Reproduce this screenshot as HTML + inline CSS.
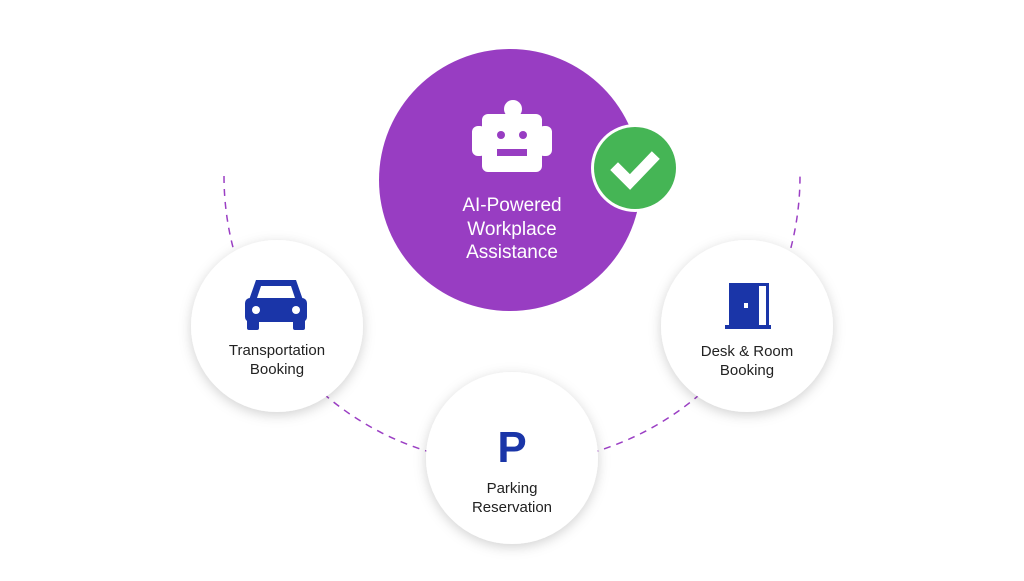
<!DOCTYPE html>
<html><head><style>
body{margin:0;width:1024px;height:576px;background:#fff;overflow:hidden;font-family:"Liberation Sans",sans-serif}
</style></head><body>
<svg width="1024" height="576" viewBox="0 0 1024 576" xmlns="http://www.w3.org/2000/svg">
<defs>
<filter id="sh" x="-30%" y="-30%" width="160%" height="160%"><feDropShadow dx="0" dy="3" stdDeviation="6" flood-color="#000" flood-opacity="0.18"/></filter>
</defs>
<path d="M224 176 A 288 288 0 0 0 800 176" fill="none" stroke="#9b3fc4" stroke-width="1.5" stroke-dasharray="7 6"/>
<circle cx="510" cy="180" r="131" fill="#983dc2"/>
<g fill="#fff">
<circle cx="513" cy="109" r="9"/>
<rect x="482" y="114" width="60" height="58" rx="6"/>
<rect x="472" y="126" width="14" height="30" rx="6"/>
<rect x="538" y="126" width="14" height="30" rx="6"/>
</g>
<circle cx="501" cy="135" r="4" fill="#983dc2"/>
<circle cx="523" cy="135" r="4" fill="#983dc2"/>
<rect x="497" y="149" width="30" height="7" fill="#983dc2"/>
<text fill="#fff" font-size="19" text-anchor="middle"><tspan x="512" y="211">AI-Powered</tspan><tspan x="512" y="235">Workplace</tspan><tspan x="512" y="258">Assistance</tspan></text>
<circle cx="635" cy="168" r="44" fill="#fff"/>
<circle cx="635" cy="168" r="41" fill="#45b555"/>
<path d="M618 170 L630 182 L652 159" fill="none" stroke="#fff" stroke-width="11" stroke-linecap="square"/>
<g filter="url(#sh)" fill="#fff">
<circle cx="277" cy="326" r="86"/>
<circle cx="512" cy="458" r="86"/>
<circle cx="747" cy="326" r="86"/>
</g>
<g fill="#1a35a8">
<path d="M256 280 H296 L303 300 H249 Z" />
<rect x="245" y="298" width="62" height="24" rx="5"/>
<rect x="247" y="318" width="12" height="12" rx="2"/>
<rect x="293" y="318" width="12" height="12" rx="2"/>
</g>
<path d="M261 286 H291 L295 298 H257 Z" fill="#fff"/>
<circle cx="256" cy="310" r="4" fill="#fff"/><circle cx="296" cy="310" r="4" fill="#fff"/>
<text fill="#222" font-size="15" text-anchor="middle"><tspan x="277" y="355">Transportation</tspan><tspan x="277" y="374">Booking</tspan></text>
<text x="512" y="462" fill="#1a35a8" font-size="44" font-weight="bold" text-anchor="middle">P</text>
<text fill="#222" font-size="15" text-anchor="middle"><tspan x="512" y="493">Parking</tspan><tspan x="512" y="512">Reservation</tspan></text>
<g fill="#1a35a8">
<rect x="729" y="283" width="30" height="46"/>
<rect x="725" y="325" width="46" height="4"/>
<rect x="759" y="283" width="10" height="3"/>
<rect x="766" y="283" width="3" height="44"/>
</g>
<rect x="744" y="303" width="4" height="5" fill="#fff"/>
<text fill="#222" font-size="15" text-anchor="middle"><tspan x="747" y="356">Desk &amp; Room</tspan><tspan x="747" y="375">Booking</tspan></text>
</svg>
</body></html>
